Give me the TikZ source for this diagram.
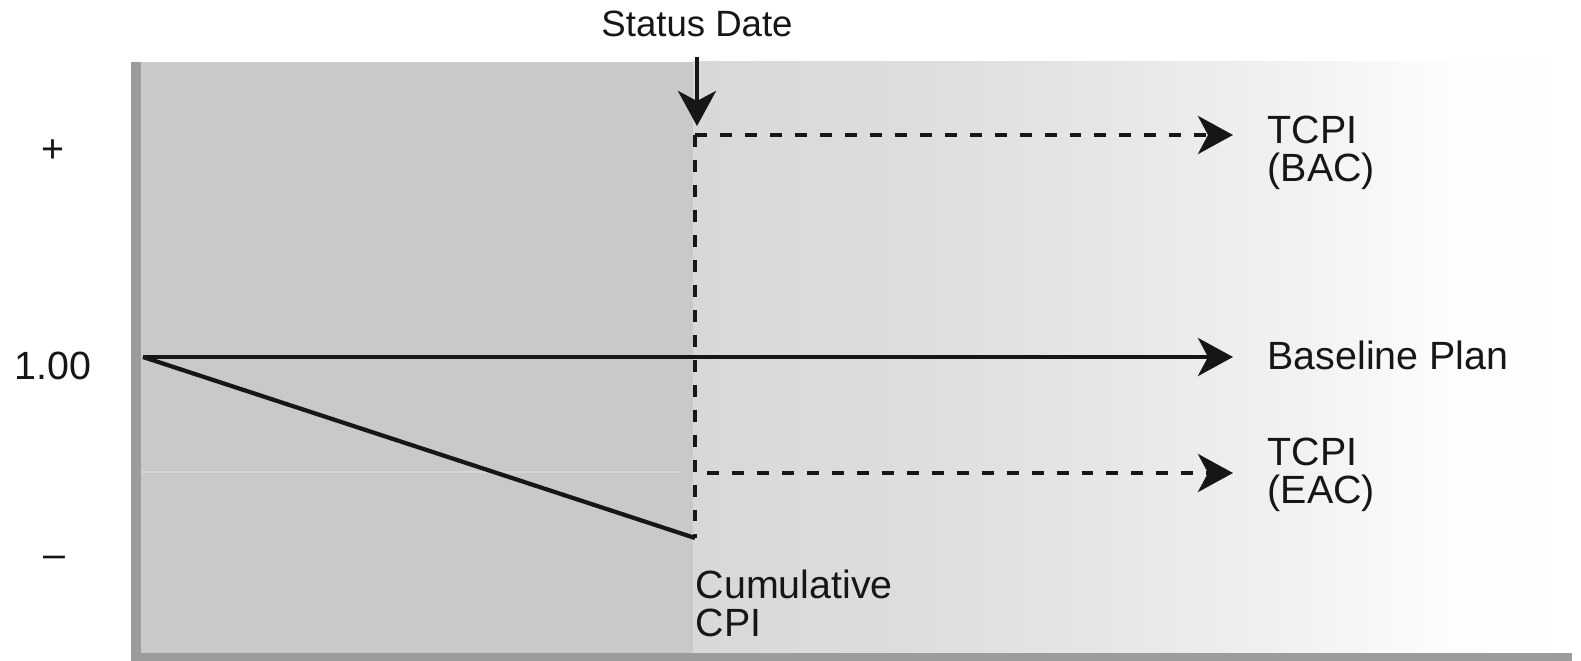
\documentclass[tikz,border=0pt]{standalone}
\usepackage{fontspec}
\setmainfont{Liberation Sans}
\usetikzlibrary{arrows.meta}
\definecolor{panelL}{RGB}{201,201,201}
\definecolor{edgeG}{RGB}{156,156,156}
\definecolor{s0}{RGB}{216,216,216}
\definecolor{s1}{RGB}{221,221,221}
\definecolor{s2}{RGB}{230,230,230}
\definecolor{s3}{RGB}{242,242,242}
\definecolor{s4}{RGB}{253,253,253}
\definecolor{inkC}{RGB}{22,22,22}
\begin{document}
\begin{tikzpicture}[x=0.01cm,y=-0.01cm,
 lbl/.style={inner sep=0pt, font=\fontsize{11.2}{10.8}\selectfont, text=inkC},
 multi/.style={lbl, align=left, anchor=north west},
 conn/.style={line width=1.2pt, draw=inkC, -{Stealth[length=0.35cm,width=0.38cm,inset=0.1cm]}},
 plain/.style={line width=1.2pt, draw=inkC},
 dash12/.style={dash pattern=on 3.4pt off 3.7pt}]
\useasboundingbox (0,0) rectangle (1581,661);
\fill[white] (0,0) rectangle (1581,661);
% panel background
\fill[panelL] (141,62) rectangle (694,653);
\shade[left color=s0,right color=s1] (693,62) rectangle (901,653);
\shade[left color=s1,right color=s2] (900,62) rectangle (1101,653);
\shade[left color=s2,right color=s3] (1100,62) rectangle (1301,653);
\shade[left color=s3,right color=s4] (1300,62) rectangle (1451,653);
\shade[left color=s4,right color=white] (1450,62) rectangle (1581,653);
\fill[edgeG] (131,62) rectangle (141,661);
\fill[edgeG] (131,653) rectangle (1572,661);
\draw[white, opacity=0.25, line width=0.6pt] (141,472) -- (680,472);

% labels
\node[lbl, font=\fontsize{10.4}{12}\selectfont, anchor=base] (sd) at (697,37) {Status Date};
\node[lbl, anchor=base] (plus) at (53,163) {+};
\node[lbl, anchor=base] (one) at (53,380) {1.00};
\node[lbl, anchor=base] (minus) at (54,568) {–};
\node[multi] (bac) at (1267,115) {TCPI\\(BAC)};
\node[lbl, anchor=base west] (bp) at (1267,370) {Baseline Plan};
\node[multi] (eac) at (1267,437) {TCPI\\(EAC)};
\node[multi] (cum) at (695,569) {Cumulative\\CPI};

% coordinates
\coordinate (o) at (143,357);
\coordinate (cpi) at (695,538);
\coordinate (corner) at (695,135);
\coordinate (sdTop) at (697,57);
\coordinate (sdTip) at (697,126);
\coordinate (bacTip) at (1233,135);
\coordinate (bpTip) at (1233,357);
\coordinate (eacStart) at (707,473);
\coordinate (eacTip) at (1233,473);

% connectors
\draw[plain] (o) -- (cpi);
\draw[conn] (o) -- (bpTip);
\draw[plain, dash12] (corner) -- (cpi);
\draw[conn, dash12] (corner) -- (bacTip);
\draw[conn, dash12] (eacStart) -- (eacTip);
\draw[conn] (sdTop) -- (sdTip);
\end{tikzpicture}
\end{document}
